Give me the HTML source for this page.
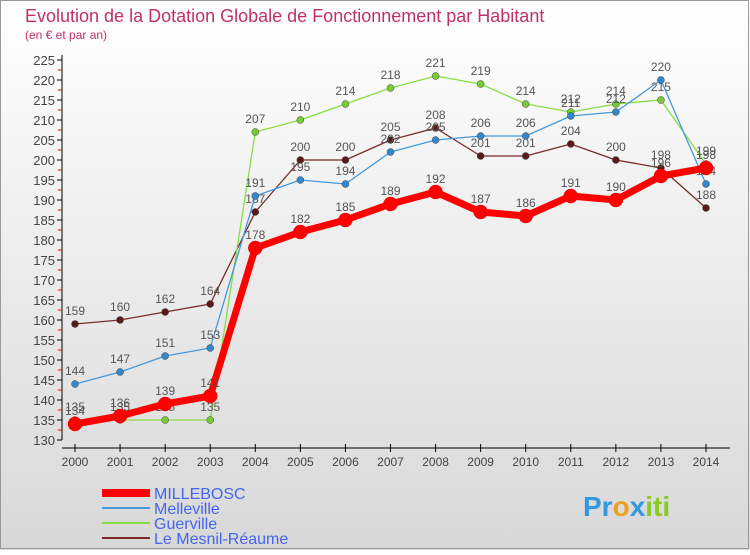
<!DOCTYPE html>
<html><head><meta charset="utf-8"><style>
html,body{margin:0;padding:0}
body{width:750px;height:550px;overflow:hidden;font-family:"Liberation Sans",sans-serif}
</style></head><body>
<svg id="c" width="750" height="550" xmlns="http://www.w3.org/2000/svg">
<defs><linearGradient id="bg" x1="0" y1="0" x2="0" y2="1"><stop offset="0" stop-color="#ffffff"/><stop offset="1" stop-color="#d8d8d8"/></linearGradient></defs>
<rect width="750" height="550" fill="url(#bg)"/>
<rect x="0.5" y="0.5" width="748" height="548" fill="none" stroke="#999"/>
<text x="25" y="22" font-size="18" fill="#c0306a">Evolution de la Dotation Globale de Fonctionnement par Habitant</text>
<text x="25" y="39" font-size="12" fill="#c0306a">(en € et par an)</text>
<g id="axes"></g><g id="series"></g><g id="legend"></g>
<text x="583" y="516" font-size="28" font-weight="bold" fill="#3399dd">Pr<tspan fill="#f0a020">o</tspan><tspan fill="#3399dd">x</tspan><tspan fill="#88cc22">iti</tspan></text>
</svg>
<script>
const years=[2000,2001,2002,2003,2004,2005,2006,2007,2008,2009,2010,2011,2012,2013,2014];
const yTicks=[130,135,140,145,150,155,160,165,170,175,180,185,190,195,200,205,210,215,220,225];
const millebosc=[134,136,139,141,178,182,185,189,192,187,186,191,190,196,198];
const melleville=[144,147,151,153,191,195,194,202,205,206,206,211,212,220,194];
const guerville=[135,135,135,135,207,210,214,218,221,219,214,212,214,215,199];
const mesnil=[159,160,162,164,187,200,200,205,208,201,201,204,200,198,188];
const NS='http://www.w3.org/2000/svg';
const xs=i=>75+i*(706-75)/14;
const ys=v=>440-(v-130)*4;
function mk(t,a,p){const e=document.createElementNS(NS,t);for(const k in a)e.setAttribute(k,a[k]);p.appendChild(e);return e;}
const ax=document.getElementById('axes');
let l=mk('line',{x1:62,y1:55,x2:62,y2:440,stroke:'#000'},ax);


l=mk('line',{x1:62,y1:448,x2:730,y2:448,stroke:'#000'},ax);


yTicks.forEach(v=>{
 const y=ys(v);
 let t=mk('line',{x1:57,y1:y,x2:62,y2:y,stroke:'#000'},ax);
 
 
 if(v<225){let m=mk('line',{x1:58,y1:y-10,x2:62,y2:y-10,stroke:'#e00'},ax);
 
 }
 let tx=mk('text',{x:55,y:y+5,'font-size':13,'text-anchor':'end',fill:'#444'},ax);tx.textContent=v;
 
 
});
years.forEach((yr,i)=>{
 const x=xs(i);
 let t=mk('line',{x1:x,y1:444,x2:x,y2:452,stroke:'#000'},ax);
 
 
 let tx=mk('text',{x:x,y:466,'font-size':12,'text-anchor':'middle',fill:'#444'},ax);tx.textContent=yr;
 
 
});
const sg=document.getElementById('series');
function series(name,data,color,w,r,dot){
 const g=mk('g',{},sg);
 
 
 const p=mk('polyline',{points:data.map((v,i)=>xs(i)+','+ys(v)).join(' '),fill:'none',stroke:color,'stroke-width':w,'stroke-linejoin':'round'},g);
 
 
 data.forEach((v,i)=>{
  const c=mk('circle',{cx:xs(i),cy:ys(v),r:r,fill:dot,stroke:color==='#ff0000'?'#e00':'#444','stroke-width':0.5},g);
  
  
  const t=mk('text',{x:xs(i),y:ys(v)-9,'font-size':12,'text-anchor':'middle',fill:'#555'},g);t.textContent=v;
  
  
 });
}
series('le-mesnil-reaume',mesnil,'#7a2a2a',1.3,3.5,'#5a1a1a');
series('guerville',guerville,'#88dd44',1.3,3.5,'#77cc33');
series('melleville',melleville,'#4499dd',1.3,3.5,'#3388cc');
series('millebosc',millebosc,'#ff0000',7,7,'#ff0000');
const lg=document.getElementById('legend');
const leg=[['MILLEBOSC','#ff0000',8],['Melleville','#4499dd',2],['Guerville','#88dd44',2],['Le Mesnil-Réaume','#7a2a2a',2]];
leg.forEach((e,i)=>{
 const y=493+i*15;
 const ln=mk('line',{x1:102,y1:y,x2:150,y2:y,stroke:e[1],'stroke-width':e[2]},lg);
 
 
 const t=mk('text',{x:154,y:y+6,'font-size':16,fill:'#4466ee'},lg);t.textContent=e[0];
 
 
});
</script>
</body></html>
